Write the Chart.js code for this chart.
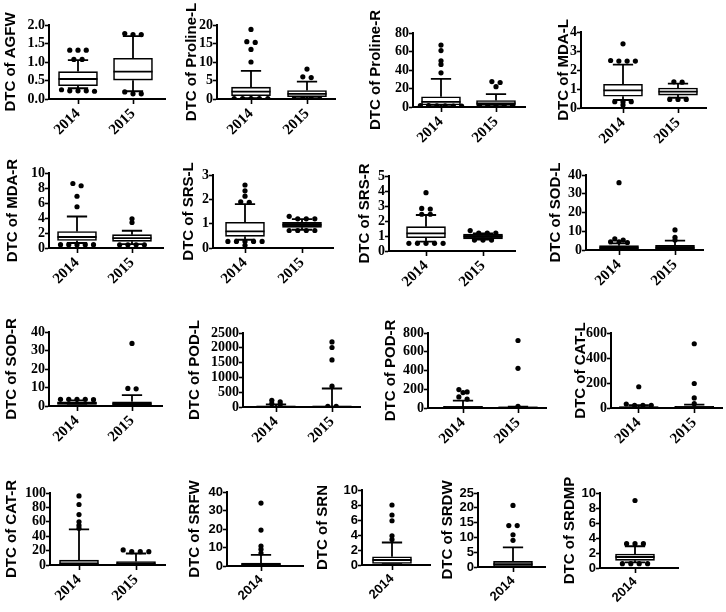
<!DOCTYPE html>
<html><head><meta charset="utf-8">
<script src="https://cdn.jsdelivr.net/npm/chart.js@4.4.1/dist/chart.umd.min.js"></script>
<style>
html,body{margin:0;padding:0;background:#fff;}
#wrap{position:relative;width:726px;height:612px;overflow:hidden;background:#fff;}
#wrap canvas{position:absolute;}
</style></head><body><div id="wrap"></div>
<script>
// ---------------- DATA ----------------
const cats2 = ['2014', '2015'];
const cats1 = ['2014'];

const titles = ['DTC of AGFW','DTC of Proline-L','DTC of Proline-R','DTC of MDA-L',
  'DTC of MDA-R','DTC of SRS-L','DTC of SRS-R','DTC of SOD-L',
  'DTC of SOD-R','DTC of POD-L','DTC of POD-R','DTC of CAT-L',
  'DTC of CAT-R','DTC of SRFW','DTC of SRN','DTC of SRDW','DTC of SRDMP'];

// y-axis tick ranges (max, step)
const yMaxes = [2, 20, 80, 4, 10, 3, 5, 40, 40, 2500, 800, 600, 100, 40, 10, 25, 10];
const ySteps = [0.5, 5, 20, 1, 2, 1, 1, 10, 10, 500, 200, 200, 20, 10, 2, 5, 2];

// box stats per category: [lower whisker, Q1, median, Q3, upper whisker]
const boxAGFW    = [[0.29,0.36,0.54,0.74,1.05],[0.21,0.51,0.74,1.10,1.70]];
const boxProlL   = [[0.2,0.9,2.0,3.2,7.6],[0.2,0.6,1.4,2.3,4.7]];
const boxProlR   = [[0.8,2.2,5.5,11,30.5],[0.6,1.8,4,7,14]];
const boxMDAL    = [[0.42,0.62,0.93,1.25,2.28],[0.54,0.68,0.86,1.05,1.28]];
const boxMDAR    = [[0.67,1.0,1.47,2.2,4.2],[0.53,0.89,1.33,1.78,2.3]];
const boxSRSL    = [[0.34,0.48,0.68,1.06,1.8],[0.75,0.85,0.95,1.06,1.19]];
const boxSRSR    = [[0.62,0.89,1.18,1.62,2.4],[0.76,0.8,0.97,1.13,1.18]];
const boxSODL    = [[0.3,0.5,1.2,2.3,3.5],[0.3,0.5,1.2,2.5,5.0]];
const boxSODR    = [[0.3,0.8,1.5,2.2,3.0],[0.3,0.5,1.2,2.3,5.9]];
const boxPODL    = [[0,5,15,30,90],[0,5,12,30,625]];
const boxPODR    = [[0,3,8,18,78],[0,2,5,12,14]];
const boxCATL    = [[0,2,5,10,22],[0,2,6,14,27]];
const boxCATR    = [[0,0.5,2,7,49.5],[0,0.5,2,4.7,16]];
const boxSRFW    = [[0,0.3,0.8,1.6,6]];
const boxSRN     = [[0.1,0.2,0.67,1.1,3.0]];
const boxSRDW    = [[0,0.2,1.0,1.9,6.6]];
const boxSRDMP   = [[0.75,1.02,1.47,1.87,2.9]];

// points outside the whiskers, per category
const outAGFW  = [[1.32,1.32,1.32,1.07,1.07,0.25,0.22,0.22,0.21,0.22],[1.77,1.74,1.74,0.19,0.14,0.14]];
const outProlL = [[18.8,15.5,15.3,13.4,10.0,0.1,0.1,0.1,0.1,0.1],[8.1,6.0,5.8,0.1,0.1,0.1,0.1]];
const outProlR = [[67,61,50,46,37,1.5,1.2,1.0,1.4,1.1,1.3],[27.5,26.5,22,1.2,1.0,1.3,1.1,1.2]];
const outMDAL  = [[3.38,2.5,2.47,2.47,2.47,0.33,0.33,0.33,0.16],[1.38,1.36,0.45,0.45,0.45]];
const outMDAR  = [[8.6,8.3,6.9,5.5,0.45,0.45,0.45,0.45,0.45],[3.9,3.4,0.42,0.42,0.42,0.42]];
const outSRSL  = [[2.59,2.35,2.13,1.9,1.88,0.27,0.27,0.27,0.27,0.27,0.11],[1.3,1.2,1.2,1.2,0.72,0.72,0.72,0.72]];
const outSRSR  = [[3.89,2.84,2.8,2.45,2.45,0.51,0.51,0.51,0.51,0.51],[1.36,1.2,1.2,1.2,0.73,0.73,0.73]];
const outSODL  = [[35.9,5.9,5.3,4.4,4.4,4.0],[10.7,6.8,5.3]];
const outSODR  = [[3.6,3.6,3.6,3.6,3.4],[33.8,9.5,9.3]];
const outPODL  = [[228,170,114,80],[2200,2010,1590,705,20,20]];
const outPODR  = [[197,172,165,118,95],[720,423,18]];
const outCATL  = [[170,32,22,22,22],[514,196,81,35]];
const outCATR  = [[96,84,70,60,55,51],[21,18.5,18.5,18.5]];
const outSRFW  = [[34,19.4,10.8,9,7]];
const outSRN   = [[8.0,6.67,5.9,3.9,3.4]];
const outSRDW  = [[20.8,14,14,10.9,9.0]];
const outSRDMP = [[9.0,3.25,3.25,3.25,0.58,0.58,0.58,0.58]];

// ---------------- LAYOUT / STYLE ----------------
const W = '#fff', D = '#111', G = '#a8a8a8';
const panels = [
  {box: boxAGFW,  out: outAGFW,  cats: cats2, fill:[W,W], serif:true, ax:49,  top:25,  bot:99,  xEnd:165, c:[78,133],  tx:11},
  {box: boxProlL, out: outProlL, cats: cats2, fill:[W,W], serif:true, ax:217, top:25,  bot:99,  xEnd:335, c:[251,307], tx:192},
  {box: boxProlR, out: outProlR, cats: cats2, fill:[W,W], serif:true, ax:413, top:33,  bot:107, xEnd:525, c:[441,496], tx:376},
  {box: boxMDAL,  out: outMDAL,  cats: cats2, fill:[W,W], serif:true, ax:581, top:32,  bot:108, xEnd:706, c:[623,678], tx:564},
  {box: boxMDAR,  out: outMDAR,  cats: cats2, fill:[W,W], serif:true, ax:49,  top:173, bot:248, xEnd:163, c:[77,132],  tx:13},
  {box: boxSRSL,  out: outSRSL,  cats: cats2, fill:[W,D], serif:true, ax:213, top:175, bot:248, xEnd:333, c:[245,302], tx:189},
  {box: boxSRSR,  out: outSRSR,  cats: cats2, fill:[W,D], serif:true, ax:389, top:176, bot:251, xEnd:515, c:[426,483], tx:365},
  {box: boxSODL,  out: outSODL,  cats: cats2, fill:[D,D], serif:true, ax:586, top:175, bot:250, xEnd:703, c:[619,675], tx:556},
  {box: boxSODR,  out: outSODR,  cats: cats2, fill:[D,D], serif:true, ax:49,  top:332, bot:406, xEnd:162, c:[77,132],  tx:12},
  {box: boxPODL,  out: outPODL,  cats: cats2, fill:[D,D], serif:true, ax:243, top:333, bot:407, xEnd:360, c:[276,332], tx:195},
  {box: boxPODR,  out: outPODR,  cats: cats2, fill:[D,D], serif:true, ax:428, top:333, bot:408, xEnd:546, c:[463,518], tx:391},
  {box: boxCATL,  out: outCATL,  cats: cats2, fill:[D,D], serif:true, ax:611, top:333, bot:408, xEnd:723, c:[639,695], tx:581},
  {box: boxCATR,  out: outCATR,  cats: cats2, fill:[G,D], serif:true, ax:50,  top:493, bot:565, xEnd:165, c:[79,136],  tx:12},
  {box: boxSRFW,  out: outSRFW,  cats: cats1, fill:[D],   serif:false, ax:227, top:492, bot:566, xEnd:303, c:[261], tx:195},
  {box: boxSRN,   out: outSRN,   cats: cats1, fill:[W],   serif:false, ax:362, top:490, bot:565, xEnd:430, c:[392], tx:323},
  {box: boxSRDW,  out: outSRDW,  cats: cats1, fill:[W],   serif:false, ax:478, top:493, bot:567, xEnd:545, c:[513], tx:448},
  {box: boxSRDMP, out: outSRDMP, cats: cats1, fill:[W],   serif:false, ax:600, top:493, bot:568, xEnd:678, c:[635], tx:570}
];

const SERIF = "'Liberation Serif','Times New Roman',serif";
const SANS = "'Liberation Sans',Arial,sans-serif";

// spread points that share (nearly) the same value sideways, like Prism does
function spreadPoints(vals, catIndex, tol, step) {
  const sorted = vals.slice().sort((a, b) => b - a);
  const groups = [];
  sorted.forEach(v => {
    const g = groups[groups.length - 1];
    if (g && Math.abs(g[0] - v) <= tol) g.push(v); else groups.push([v]);
  });
  const pts = [];
  groups.forEach(g => g.forEach((v, k) => pts.push({x: catIndex + (k - (g.length - 1) / 2) * step, y: v})));
  return pts;
}

const whiskerPlugin = {
  id: 'boxWhiskers',
  afterDatasetsDraw(chart) {
    const ds = chart.data.datasets[1];
    const meta = chart.getDatasetMeta(1);
    const xs = chart.scales.x, ys = chart.scales.y;
    const ctx = chart.ctx;
    ctx.save();
    ctx.strokeStyle = '#000';
    ctx.lineWidth = 1.8;
    ctx.lineCap = 'butt';
    ds.stats.forEach((s, i) => {
      const el = meta.data[i];
      const cx = xs.getPixelForValue(i);
      const hw = el.width / 2;
      const cw = hw * 0.52;
      const [lo, q1, med, q3, hi] = s.map(v => ys.getPixelForValue(v));
      ctx.beginPath();
      ctx.moveTo(cx - hw, med); ctx.lineTo(cx + hw, med);
      ctx.moveTo(cx, q3); ctx.lineTo(cx, hi);
      ctx.moveTo(cx - cw, hi); ctx.lineTo(cx + cw, hi);
      if (s[0] < s[1]) {
        ctx.moveTo(cx, q1); ctx.lineTo(cx, lo);
        ctx.moveTo(cx - cw, lo); ctx.lineTo(cx + cw, lo);
      }
      ctx.stroke();
    });
    ctx.restore();
  }
};

const wrap = document.getElementById('wrap');
const PADT = 34, XH = 50;

panels.forEach((p, idx) => {
  const cats = p.cats;
  const yMax = yMaxes[idx], yStep = ySteps[idx];
  const ppu = cats.length > 1 ? (p.c[1] - p.c[0]) : 56;
  const xMin = -(p.c[0] - p.ax) / ppu;
  const xMax = (cats.length - 1) + (p.xEnd - p.c[cats.length - 1]) / ppu;
  const left = p.tx - 9;
  const yW = p.ax - left;
  const rPad = Math.min(10, 726 - p.xEnd);
  const cw = (p.xEnd + rPad) - left;
  const ch = (p.bot - p.top) + PADT + XH;

  const cv = document.createElement('canvas');
  cv.width = cw; cv.height = ch;
  cv.style.left = left + 'px';
  cv.style.top = (p.top - PADT) + 'px';
  cv.style.width = cw + 'px'; cv.style.height = ch + 'px';
  wrap.appendChild(cv);

  const tickFam = p.serif ? SERIF : SANS;
  const ySize = p.serif ? 14 : 13;
  const xSize = p.serif ? 15 : 13;
  const tol = yMax * 0.035;
  const pts = [];
  p.out.forEach((vals, i) => spreadPoints(vals, i, tol, 0.15).forEach(pt => pts.push(pt)));
  const decimals = yStep < 1 ? 1 : 0;

  new Chart(cv, {
    type: 'bar',
    data: {
      datasets: [
        {type: 'scatter', data: pts, pointRadius: 2.6, pointBackgroundColor: '#000', pointBorderWidth: 0, showLine: false},
        {type: 'bar', data: p.box.map((s, i) => ({x: i, y: [s[1], s[3]]})), stats: p.box,
         backgroundColor: p.fill, borderColor: '#000', borderWidth: 1.6, borderSkipped: false, barThickness: 39}
      ]
    },
    options: {
      responsive: false, animation: false, devicePixelRatio: 1,
      layout: {padding: {top: PADT, right: rPad, left: 0, bottom: 0}},
      plugins: {legend: {display: false}, tooltip: {enabled: false}},
      scales: {
        x: {
          type: 'linear', min: xMin, max: xMax, offset: false,
          afterBuildTicks: s => { s.ticks = cats.map((c, i) => ({value: i})); },
          afterFit: s => { s.height = XH; },
          ticks: {autoSkip: false, maxRotation: 45, minRotation: 45, padding: 1, color: '#000',
                  font: {family: tickFam, size: xSize, weight: 'bold'}, callback: v => cats[v]},
          grid: {display: true, drawOnChartArea: false, drawTicks: true, tickLength: 5, tickColor: '#000', tickWidth: 1.6, offset: false},
          border: {display: true, color: '#000', width: 2}
        },
        y: {
          type: 'linear', min: 0, max: yMax,
          afterBuildTicks: s => { const t = []; for (let v = 0; v <= yMax + 1e-9; v += yStep) t.push({value: v}); s.ticks = t; },
          afterFit: s => { s.width = yW; },
          ticks: {autoSkip: false, padding: 0, color: '#000', font: {family: tickFam, size: ySize, weight: 'bold'},
                  callback: v => v.toFixed(decimals)},
          grid: {display: true, drawOnChartArea: false, drawTicks: true, tickLength: 4, tickColor: '#000', tickWidth: 1.6},
          border: {display: true, color: '#000', width: 2},
          title: {display: true, text: titles[idx], color: '#000', padding: 0,
                  font: {family: SANS, size: 15, weight: 'bold'}}
        }
      }
    },
    plugins: [whiskerPlugin]
  });
});
</script>
</body></html>
